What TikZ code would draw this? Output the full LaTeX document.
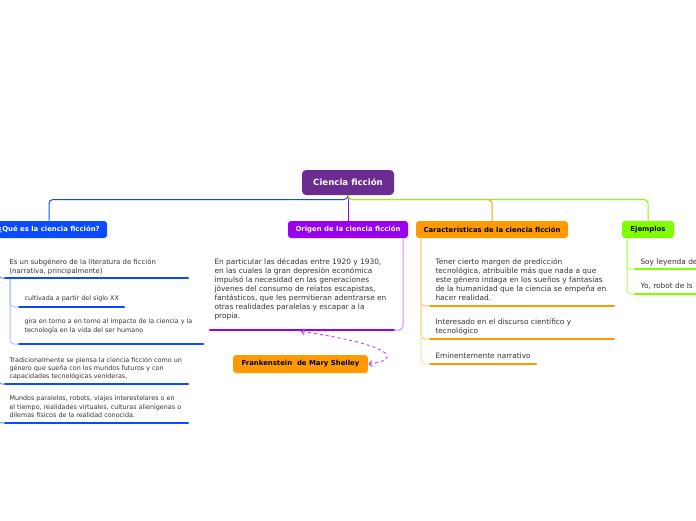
\documentclass[tikz,border=0pt]{standalone}
\usepackage{fontspec}
\setmainfont{DejaVu Sans}
\usetikzlibrary{arrows.meta, positioning, calc}
\definecolor{croot}{HTML}{6A2C91}
\definecolor{cpurple}{HTML}{9A00F0}
\definecolor{cblue}{HTML}{0A4BFF}
\definecolor{corange}{HTML}{FF9A00}
\definecolor{cgreen}{HTML}{80FF00}
\definecolor{ctext}{HTML}{333333}
\tikzset{
  every picture/.style={font=\fontsize{6.9}{9}\selectfont, line width=1pt},
  topic/.style={fill=#1, rounded corners=3pt, font=\fontsize{6.9}{8}\selectfont\bfseries, minimum height=17pt, inner xsep=4pt},
  item/.style={anchor=north west, inner sep=0pt, align=left, text=ctext},
  small/.style={font=\fontsize{6.4}{8.3}\selectfont},
  wide/.style={font=\fontsize{7.4}{9}\selectfont},
  uline/.style={draw=#1, line width=2.6pt, line cap=round},
  link/.style={draw=#1, line width=1pt, rounded corners=4pt},
  dlink/.style={draw=cpurple!75, line width=0.9pt, dashed, {Straight Barb[length=3pt]}-{Straight Barb[length=3pt]}},
}
\begin{document}
\begin{tikzpicture}[x=1pt, y=-1pt]
  \clip (0,0) rectangle (696,520);
  % main topic
  \node[fill=croot, text=white, rounded corners=4pt, font=\fontsize{8.6}{10}\selectfont\bfseries, minimum width=92pt, minimum height=25pt] (root) at (348,182.5) {Ciencia ficción};
  \node[topic=cblue, text=white, minimum width=116pt] (que) at (49,229.5) {¿Qué es la ciencia ficción?};
  \node[topic=cpurple, text=white, minimum width=120pt] (orig) at (348,229.5) {Origen de la ciencia ficción};
  \node[topic=corange, text=black, minimum width=152pt] (carac) at (492,229.5) {Características de la ciencia ficción};
  \node[topic=cgreen, text=black, minimum width=52pt] (ej) at (648,229.5) {Ejemplos};
  \draw[link=cblue] (root.south) -- ++(0,4) -| (que.north);
  \draw[link=cpurple] (root.south) -- (orig.north);
  \draw[link=corange] (root.south) -- ++(0,4) -| (carac.north);
  \draw[link=cgreen] (root.south) -- ++(0,4) -| (ej.north);
  % que es
  \node[item] (q1) at (9,258) {Es un subgénero de la literatura de ficción\\(narrativa, principalmente)};
  \node[item, small] (q11) at (24,295) {cultivada a partir del siglo XX};
  \node[item, small] (q12) at (24,318.5) {gira en torno a en torno al impacto de la ciencia y la\\tecnología en la vida del ser humano};
  \node[item, small] (q2) at (9,356.5) {Tradicionalmente se piensa la ciencia ficción como un\\género que sueña con los mundos futuros y con\\capacidades tecnológicas venideras,};
  \node[item, small] (q3) at (9,395.5) {Mundos paralelos, robots, viajes interestelares o en\\el tiempo, realidades virtuales, culturas alienígenas o\\dilemas físicos de la realidad conocida.};
  \coordinate (uq1) at (5,278);
  \coordinate (uq11) at (19,307);
  \coordinate (uq12) at (19,344);
  \coordinate (uq2) at (5,384);
  \coordinate (uq3) at (5,423);
  \draw[uline=cblue] (uq1) -- ++(183,0);
  \draw[uline=cblue] (uq11) -- ++(105,0);
  \draw[uline=cblue] (uq12) -- ++(184,0);
  \draw[uline=cblue] (uq2) -- ++(183,0);
  \draw[uline=cblue] (uq3) -- ++(183,0);
  \draw[link=cblue!60] (que.south -| -2,0) |- (uq1);
  \draw[link=cblue!60] (que.south -| -2,0) |- (uq2);
  \draw[link=cblue!60] (que.south -| -2,0) |- (uq3);
  \draw[link=cblue!35] (10,279) |- (uq11);
  \draw[link=cblue!35] (10,279) |- (uq12);
  % origen
  \node[item, wide] (o1) at (214,258) {En particular las décadas entre 1920 y 1930,\\en las cuales la gran depresión económica\\impulsó la necesidad en las generaciones\\jóvenes del consumo de relatos escapistas,\\fantásticos, que les permitieran adentrarse en\\otras realidades paralelas y escapar a la\\propia.};
  \coordinate (uo1) at (394,330);
  \coordinate (uo1m) at (301,331.5);
  \draw[uline=cpurple] (uo1) -- (210,330);
  \draw[link=cpurple!45] (orig.south -| 403,0) |- (uo1);
  \node[topic=corange, text=black, minimum width=135pt, minimum height=18pt] (frank) at (300.5,364) {Frankenstein\ \ de Mary Shelley};
  \draw[dlink] (uo1m) .. controls (395,345) and (402,360) .. (frank.east);
  % caracteristicas
  \node[item, wide] (c1) at (435,258) {Tener cierto margen de predicción\\tecnológica, atribuible más que nada a que\\este género indaga en los sueños y fantasías\\de la humanidad que la ciencia se empeña en\\hacer realidad.};
  \node[item, wide] (c2) at (435,318) {Interesado en el discurso científico y\\tecnológico};
  \node[item, wide] (c3) at (435,352) {Eminentemente narrativo};
  \coordinate (uc1) at (430,306);
  \coordinate (uc2) at (430,339);
  \coordinate (uc3) at (430,364);
  \draw[uline=corange] (uc1) -- ++(184,0);
  \draw[uline=corange] (uc2) -- ++(184,0);
  \draw[uline=corange] (uc3) -- ++(106,0);
  \draw[link=corange!55] (carac.south -| 421,0) |- (uc1);
  \draw[link=corange!55] (carac.south -| 421,0) |- (uc2);
  \draw[link=corange!35] (carac.south -| 421,0) |- (uc3);
  % ejemplos
  \node[item, wide] (e1) at (640,258) {Soy leyenda de};
  \node[item, wide] (e2) at (640,282) {Yo, robot de Is};
  \coordinate (ue1) at (635,269);
  \coordinate (ue2) at (635,294);
  \draw[uline=cgreen] (ue1) -- ++(70,0);
  \draw[uline=cgreen] (ue2) -- ++(70,0);
  \draw[link=cgreen!60] (ej.south -| 627,0) |- (ue1);
  \draw[link=cgreen!60] (ej.south -| 627,0) |- (ue2);
\end{tikzpicture}
\end{document}
